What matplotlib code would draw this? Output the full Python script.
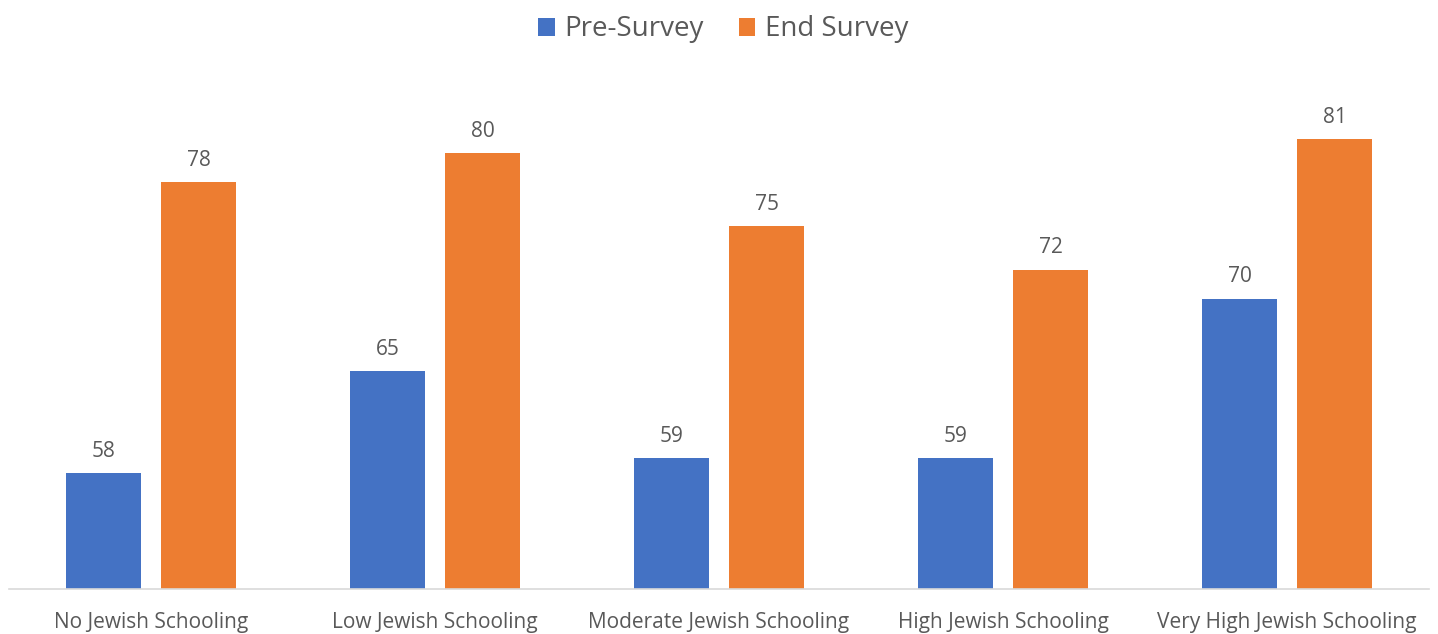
import matplotlib
matplotlib.use("Agg")
import matplotlib.pyplot as plt
import numpy as np

categories = ["No Jewish Schooling", "Low Jewish Schooling", "Moderate Jewish Schooling",
              "High Jewish Schooling", "Very High Jewish Schooling"]
pre_survey = [58, 65, 59, 59, 70]
end_survey = [78, 80, 75, 72, 81]
series_names = ["Pre-Survey", "End Survey"]

plt.rcParams['font.family'] = ['Open Sans', 'DejaVu Sans']
text_color = "#595959"
blue = "#4472C4"
orange = "#ED7D31"

W, H = 1438, 634
fig = plt.figure(figsize=(W / 100, H / 100), dpi=100)
ymin, ymax = 50, 85
px_per_unit = 14.52
top_px = 589 - (ymax - ymin) * px_per_unit
ax = fig.add_axes([9 / W, (H - 589) / H, 1420 / W, (589 - top_px) / H])

x = np.arange(len(categories))
bw = 75 / 284
off = 47.5 / 284
b1 = ax.bar(x - off, pre_survey, bw, color=blue, label=series_names[0])
b2 = ax.bar(x + off, end_survey, bw, color=orange, label=series_names[1])

for bars in (b1, b2):
    for r in bars:
        ax.annotate(f"{r.get_height():g}", (r.get_x() + r.get_width() / 2, r.get_height()),
                    xytext=(0, 8), textcoords="offset points", ha="center", va="bottom",
                    fontsize=15, color=text_color)

ax.set_ylim(ymin, ymax)
ax.set_xlim(-0.5, len(categories) - 0.5)
ax.set_xticks(x)
ax.set_xticklabels(categories, fontsize=15, color=text_color)
ax.tick_params(axis="x", length=0, pad=16.5)
ax.set_yticks([])
for s in ("top", "right", "left"):
    ax.spines[s].set_visible(False)
ax.spines["bottom"].set_color("#D9D9D9")
ax.spines["bottom"].set_linewidth(1.2)

fig.legend(handles=[b1, b2], labels=series_names, loc="upper center",
           bbox_to_anchor=(0.503, 1.015), ncol=2, frameon=False, fontsize=20,
           labelcolor=text_color, handlelength=0.6, handleheight=0.6,
           handletextpad=0.35, columnspacing=1.25)

fig.savefig("out.png", dpi=100)
